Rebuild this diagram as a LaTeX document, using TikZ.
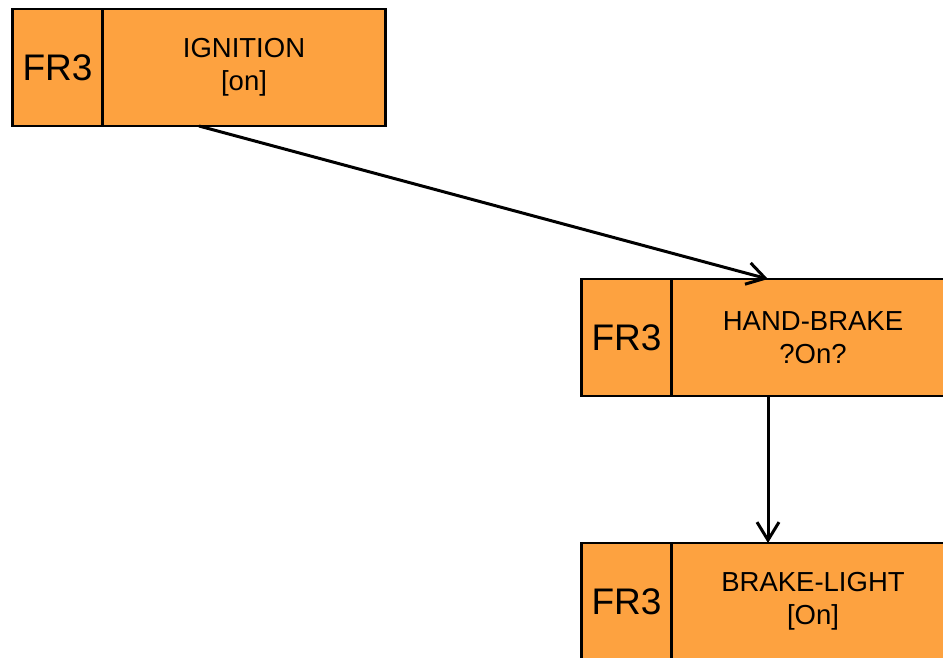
\documentclass[tikz,border=0pt]{standalone}
\usepackage{fontspec}
\setmainfont{Liberation Sans}
\usetikzlibrary{arrows.meta,calc}
\definecolor{boxfill}{RGB}{253,162,64}
\tikzset{
  tagbox/.style={draw=black,fill=boxfill,line width=2.8pt,inner sep=0pt,outer sep=0pt,
    minimum width=90pt,minimum height=117pt,font=\fontsize{37}{40}\selectfont},
  mainbox/.style={draw=black,fill=boxfill,line width=2.8pt,inner sep=0pt,outer sep=0pt,
    minimum width=283pt,minimum height=117pt,align=center,
    font=\fontsize{27.5}{33}\selectfont},
  conn/.style={draw=black,line width=3pt,-{Straight Barb[length=18pt,width=22pt,line width=3pt]}}
}
\begin{document}
\begin{tikzpicture}[x=1pt,y=-1pt]
\useasboundingbox (0,0) rectangle (943,657);
\node[tagbox] (ignT) at (57.5,67.5) {FR3};
\node[mainbox,anchor=west] (ign) at (ignT.east) {IGNITION\\{}{[on]}};
\node[tagbox] (hbT) at (626.5,337.5) {FR3};
\node[mainbox,anchor=west] (hb) at (hbT.east) {HAND-BRAKE\\?On?};
\node[tagbox] (blT) at (626.5,601.5) {FR3};
\node[mainbox,anchor=west] (bl) at (blT.east) {BRAKE-LIGHT\\{}{[On]}};
\draw[conn] ($(ignT.south west)!0.5!(ign.south east)$) -- ($(hbT.north west)!0.5!(hb.north east)$);
\draw[conn] ($(hbT.south west)!0.5!(hb.south east)$) -- ($(blT.north west)!0.5!(bl.north east)$);
\end{tikzpicture}
\end{document}
